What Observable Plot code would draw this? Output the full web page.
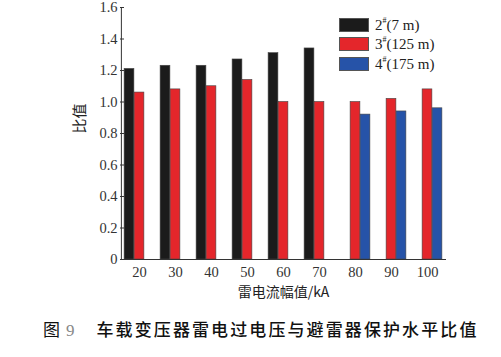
<!DOCTYPE html>
<html><head><meta charset="utf-8">
<script src="https://cdn.jsdelivr.net/npm/d3@7"></script>
<script src="https://cdn.jsdelivr.net/npm/@observablehq/plot@0.6"></script>
<style>
body{margin:0;background:#fff;}
#wrap{position:relative;width:501px;height:357px;}
#legend{position:absolute;left:339px;top:15px;font-family:"Liberation Serif",serif;font-size:15px;color:#222;}
#legend .row{display:flex;align-items:center;height:19.5px;}
#legend .sw{width:30px;height:14px;margin-right:6px;box-sizing:border-box;border:1px solid #555;}
#legend sup{font-size:8px;vertical-align:7px;}
#cap{position:absolute;left:43px;top:319px;font-family:"Noto Sans CJK SC",sans-serif;font-size:17px;color:#111;white-space:nowrap;line-height:20px;}
#cap .n{font-family:"Liberation Serif",serif;color:#888;margin-left:6px;margin-right:22px;}
#cap .t{font-weight:500;}
</style></head>
<body><div id="wrap"><div id="chart"></div>
<div id="legend"></div>
<div id="cap">图<span class="n">9</span><span class="t">车载变压器雷电过电压与避雷器保护水平比值</span></div>
</div>
<script>
const currents = ["20","30","40","50","60","70","80","90","100"];
const seriesNames = ["2#(7 m)","3#(125 m)","4#(175 m)"];
const seriesColors = ["#1b1b1b","#e4262b","#2653a8"];
const s2 = [1.21,1.23,1.23,1.27,1.31,1.34,null,null,null];
const s3 = [1.06,1.08,1.10,1.14,1.00,1.00,1.00,1.02,1.08];
const s4 = [null,null,null,null,null,null,0.92,0.94,0.96];
const yTicks = [0,0.2,0.4,0.6,0.8,1.0,1.2,1.4,1.6];

const seriesVals = [s2,s3,s4];
const data = [];
seriesVals.forEach((arr,si)=>arr.forEach((v,i)=>{ if(v!=null) data.push({current:currents[i], series:seriesNames[si], value:v}); }));

const bw = (446-120)/currents.length;
const slot = 10;
const off = (bw - 3*slot)/2;
const insets = [0,1,2].map(k=>({insetLeft: off + k*slot, insetRight: bw - off - (k+1)*slot}));
const fmt = d => d === 0 ? "0" : d3.format(".1f")(d);
const serif = "'Liberation Serif', 'Times New Roman', serif";

const chart = Plot.plot({
  width: 501, height: 305,
  marginLeft: 120, marginRight: 55, marginTop: 7, marginBottom: 46,
  style: {fontFamily: serif, fontSize: "14.5px", color: "#333", background: "#fff"},
  x: {domain: currents, padding: 0, label: null},
  y: {domain: [0,1.6], label: null},
  marks: [
    ...seriesNames.map((s,k)=>Plot.barY(data.filter(d=>d.series===s), {
      x: "current", y: "value", fill: seriesColors[k], stroke: "#444", strokeWidth: 0.6,
      insetLeft: insets[k].insetLeft, insetRight: insets[k].insetRight
    })),
    Plot.axisY({ticks: yTicks, tickSize: -4, tickPadding: 7, tickFormat: fmt, label: null, stroke: "#333", fill: "#333", fontFamily: serif, fontSize: 14.5}),
    Plot.axisX({tickSize: 0, tickPadding: 7, label: null, fill: "#333", fontFamily: serif, fontSize: 14.5}),
    Plot.ruleY([0], {stroke: "#333"}),
    Plot.ruleX([currents[0]], {y1: 0, y2: 1.6, stroke: "#333", dx: -bw/2}),
    Plot.text(["雷电流幅值/kA"], {frameAnchor: "bottom", dy: 37, fontFamily: "'Noto Sans CJK SC', sans-serif", fontSize: 14, fill: "#222"}),
    Plot.text(["比值"], {frameAnchor: "left", dx: -40, rotate: -90, fontFamily: "'Noto Sans CJK SC', sans-serif", fontSize: 15, fill: "#222"})
  ]
});
document.getElementById("chart").appendChild(chart);

const lg = document.getElementById("legend");
seriesNames.forEach((s,k)=>{
  const row = document.createElement("div"); row.className = "row";
  const sw = document.createElement("div"); sw.className = "sw"; sw.style.background = seriesColors[k];
  const m = s.match(/^(\d)#(.*)$/);
  const t = document.createElement("span"); t.innerHTML = m[1] + "<sup>#</sup>" + m[2];
  row.appendChild(sw); row.appendChild(t); lg.appendChild(row);
});
// fit caption title to the reference span (x 95 → 477)
const cap = document.querySelector("#cap .t");
const w0 = cap.getBoundingClientRect().width;
const n = cap.textContent.length;
cap.style.letterSpacing = Math.max(0, (382 - w0) / n) + "px";
</script></body></html>
